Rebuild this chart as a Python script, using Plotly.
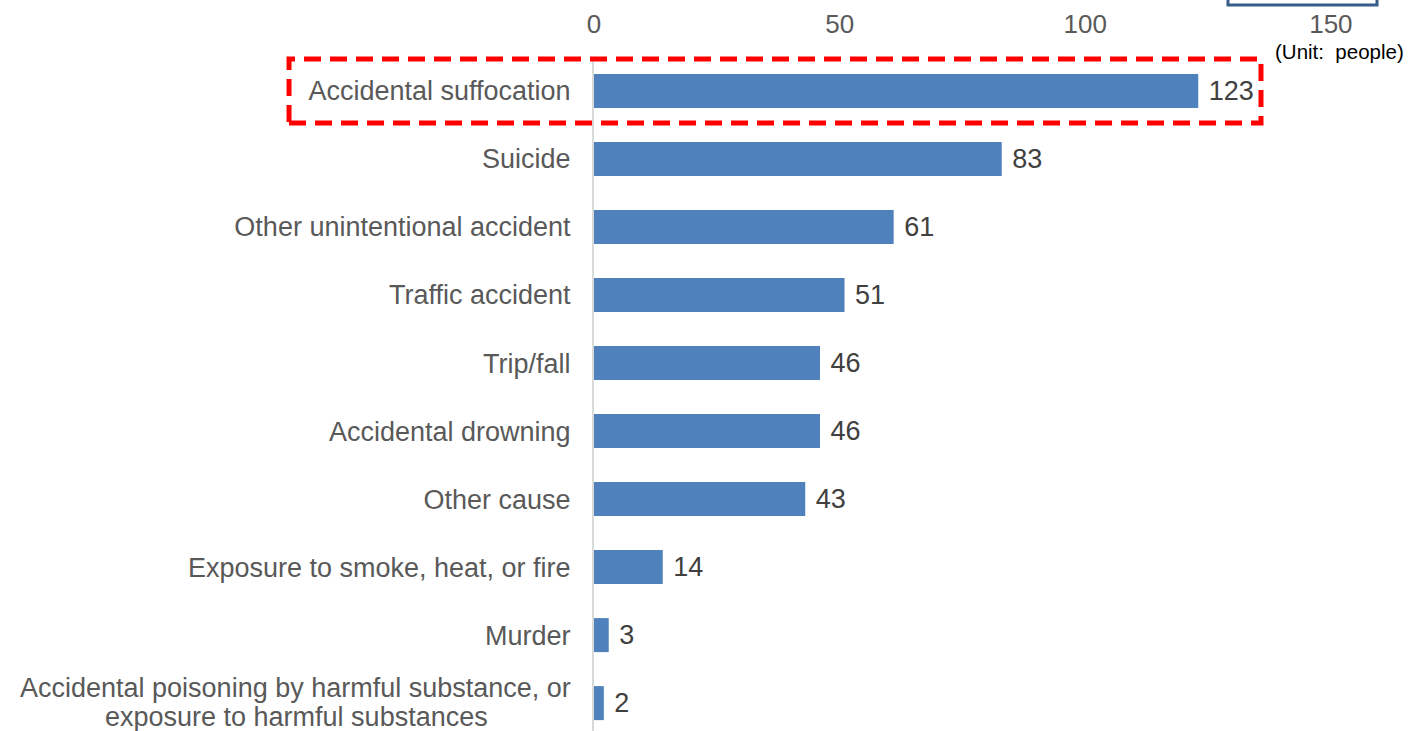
import plotly.graph_objects as go

categories = [
    "Accidental suffocation",
    "Suicide",
    "Other unintentional accident",
    "Traffic accident",
    "Trip/fall",
    "Accidental drowning",
    "Other cause",
    "Exposure to smoke, heat, or fire",
    "Murder",
    "Accidental poisoning by harmful substance, or exposure to harmful substances",
]
values = [123, 83, 61, 51, 46, 46, 43, 14, 3, 2]
x_ticks = [0, 50, 100, 150]
long_label_lines = ["Accidental poisoning by harmful substance, or", "exposure to harmful substances"]
unit_label = "(Unit:  people)"

FONT = "Liberation Sans, Arial, sans-serif"
CAT_COLOR = "#595959"

# tick texts: the two-line label is drawn with annotations (tighter line spacing)
tick_text = [c if c != categories[-1] else "" for c in categories]

fig = go.Figure(
    go.Bar(
        x=values,
        y=categories,
        orientation="h",
        marker=dict(color="#4F81BD", line=dict(width=0)),
        text=values,
        texttemplate="\u00a0%{text}",
        textposition="outside",
        textfont=dict(family=FONT, size=27, color="#404040"),
        cliponaxis=False,
        width=0.5,
        hoverinfo="skip",
    )
)

PLOT_L, PLOT_R = 594, 1380
def px_to_paper_x(px):
    return (px - PLOT_L) / (PLOT_R - PLOT_L)

fig.update_layout(
    width=1425,
    height=731,
    margin=dict(l=594, r=45, t=57, b=0),
    paper_bgcolor="white",
    plot_bgcolor="white",
    showlegend=False,
    font=dict(family=FONT, size=27, color=CAT_COLOR),
    xaxis=dict(
        range=[0, 160],
        side="top",
        tickvals=x_ticks,
        showgrid=False,
        zeroline=False,
        showline=False,
        ticks="",
        ticklabelstandoff=18,
        tickfont=dict(family=FONT, size=26, color=CAT_COLOR),
    ),
    yaxis=dict(
        categoryorder="array",
        categoryarray=categories,
        tickvals=categories,
        ticktext=tick_text,
        range=[9.41, -0.5],
        showgrid=False,
        zeroline=False,
        showline=True,
        linecolor="#d9d9d9",
        linewidth=2,
        ticks="",
        ticklabelstandoff=16,
        tickfont=dict(family=FONT, size=27, color=CAT_COLOR),
    ),
    shapes=[
        dict(
            type="rect", xref="paper", yref="paper",
            x0=-0.388, x1=0.8486, y0=0.902, y1=0.997,
            line=dict(color="#FF0000", width=5, dash="17px,9px"),
            fillcolor="rgba(0,0,0,0)",
        ),
        dict(
            type="rect", xref="paper", yref="paper",
            x0=0.8066, x1=0.9962, y0=1.077, y1=1.2,
            line=dict(color="#385D8A", width=3),
            fillcolor="rgba(0,0,0,0)",
        ),
    ],
    annotations=[
        dict(
            text=unit_label, xref="paper", yref="paper",
            x=px_to_paper_x(1406), y=(731 - 52) / 674,
            xanchor="right", yanchor="middle", showarrow=False,
            font=dict(family=FONT, size=20.5, color="#000000"),
        ),
        dict(
            text=long_label_lines[0], xref="paper", yref="y",
            x=px_to_paper_x(572), y=categories[-1], yshift=15,
            xanchor="right", yanchor="middle", showarrow=False, borderpad=0,
            font=dict(family=FONT, size=27, color=CAT_COLOR),
        ),
        dict(
            text=long_label_lines[1], xref="paper", yref="y",
            x=px_to_paper_x(296), y=categories[-1], yshift=-14,
            xanchor="center", yanchor="middle", showarrow=False, borderpad=0,
            font=dict(family=FONT, size=27, color=CAT_COLOR),
        ),
    ],
)

fig.write_html(
    "out.html",
    config={"displayModeBar": False, "staticPlot": True},
    post_script="document.body.style.margin='0';",
)
